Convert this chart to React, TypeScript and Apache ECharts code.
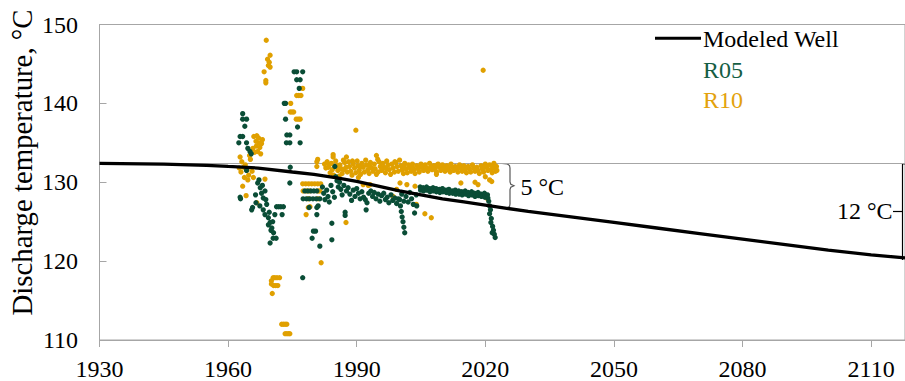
import React, { useEffect, useRef } from "react";
import * as echarts from "echarts";

// ---------- data ----------
const xTicks = [1930, 1960, 1990, 2020, 2050, 2080, 2110];
const yTicks = [110, 120, 130, 140, 150];

const modelYears = [1930, 1945, 1955, 1960, 1967, 1975, 1980, 1985, 1990, 1995, 2000, 2005, 2010, 2015, 2020, 2025, 2030, 2040, 2050, 2060, 2070, 2080, 2090, 2100, 2110, 2117.9];
const modelTemps = [132.4, 132.3, 132.15, 132.0, 131.8, 131.3, 131.0, 130.6, 130.1, 129.5, 128.9, 128.4, 127.9, 127.5, 127.1, 126.7, 126.3, 125.6, 124.9, 124.2, 123.5, 122.8, 122.1, 121.4, 120.8, 120.4];

const initialTemp = 132.4;

// R10 measurements [year, temperature]
const r10Early: number[][] = [
  [1962.8, 133.2], [1963.2, 132.6], [1963.6, 131.9], [1963.0, 131.3], [1964.0, 132.2], [1964.4, 131.6],
  [1964.8, 130.9], [1965.2, 132.9], [1965.6, 131.4], [1963.8, 130.6], [1964.6, 130.3], [1965.9, 130.6],
  [1962.6, 131.8], [1965.0, 133.4], [1963.4, 129.5], [1964.2, 128.3], [1966.7, 127.4], [1968.6, 130.4],
  [1966.0, 135.8], [1966.7, 135.9], [1967.1, 135.6], [1966.5, 135.2], [1967.3, 135.0], [1966.6, 134.6],
  [1967.4, 134.4], [1966.9, 133.9], [1967.6, 133.6], [1966.2, 133.8], [1965.8, 134.3], [1967.8, 134.9],
  [1968.0, 135.4], [1968.9, 148.0], [1969.8, 146.1], [1969.2, 145.6], [1969.6, 145.2], [1969.4, 144.8],
  [1969.8, 144.6], [1968.4, 144.0], [1968.8, 142.9], [1968.8, 142.6],
  [1970.5, 117.9], [1970.9, 117.9], [1971.4, 117.9], [1972.0, 117.9], [1970.1, 117.5], [1970.1, 117.1],
  [1970.6, 116.9], [1971.1, 116.9], [1971.6, 116.9], [1970.3, 115.9],
  [1972.5, 112.0], [1972.9, 112.0], [1973.3, 112.0], [1973.7, 112.0], [1973.3, 110.8], [1973.7, 110.8],
  [1974.1, 110.8], [1974.4, 110.8], [1972.3, 109.8],
  [1974.6, 140.0], [1974.5, 138.9], [1974.9, 138.9], [1975.3, 138.9], [1975.9, 138.0], [1976.4, 138.0],
  [1976.8, 138.0], [1976.0, 141.0], [1976.5, 141.0], [1977.0, 141.0], [1977.4, 141.9],
];
const r10Seventies: number[][] = [
  [1977.4, 129.8], [1978.1, 129.8], [1978.8, 129.8], [1979.5, 129.8], [1980.2, 129.8], [1980.9, 129.8],
  [1981.6, 129.8], [1977.5, 128.9], [1978.3, 128.9], [1979.0, 128.9], [1981.0, 128.9], [1981.4, 128.9],
  [1978.7, 127.9], [1981.0, 127.9], [1978.7, 126.8], [1979.1, 126.9], [1978.2, 125.9], [1981.7, 119.8],
  [1980.7, 132.0], [1980.9, 132.9], [1980.7, 132.6],
];
const r10Outliers: number[][] = [
  [1987.5, 124.9], [1989.8, 136.6], [2019.5, 144.2], [1984.5, 133.5], [1984.5, 133.2], [1987.6, 133.2],
  [1994.6, 133.4], [1991.5, 129.7], [1992.7, 129.6], [1993.1, 129.7], [1998.5, 128.2], [1999.3, 129.1],
  [2000.1, 129.9], [2001.7, 129.7], [2003.6, 129.5], [2003.9, 127.2], [2005.9, 126.0], [2007.4, 125.5],
  [2008.6, 131.0], [2014.3, 129.9], [2017.6, 130.0], [2018.3, 129.7], [2020.0, 130.7], [2021.0, 130.3],
  [2020.5, 127.9], [2021.5, 130.1], [1990.4, 130.6],
];
const r10Band: number[][] = [
  [1982.5, 132.3], [1982.8, 131.8], [1983.1, 132.6], [1983.4, 131.9], [1983.8, 131.2],
  [1984.1, 132.4], [1984.3, 131.6], [1984.6, 130.9], [1984.9, 132.0],
  [1985.1, 132.7], [1985.4, 132.1], [1985.6, 131.5], [1985.9, 130.8],
  [1986.1, 132.2], [1986.4, 131.7], [1986.6, 131.1], [1986.9, 132.8],
  [1987.2, 132.5], [1987.5, 131.9], [1987.8, 131.3],
  [1988.1, 132.6], [1988.3, 132.0], [1988.6, 131.4], [1988.9, 130.9],
  [1989.2, 132.3], [1989.5, 131.8], [1989.8, 131.2],
  [1990.1, 132.7], [1990.3, 132.1], [1990.6, 131.5], [1990.9, 131.0],
  [1991.2, 132.4], [1991.5, 131.9], [1991.8, 131.3],
  [1992.1, 132.8], [1992.3, 132.2], [1992.6, 131.6], [1992.9, 131.1],
  [1993.2, 132.5], [1993.5, 131.8], [1993.8, 131.4],
  [1994.1, 132.3], [1994.3, 131.7], [1994.6, 131.0], [1994.9, 132.9],
  [1995.2, 132.6], [1995.5, 132.0], [1995.8, 131.5],
  [1996.1, 132.4], [1996.4, 131.9], [1996.7, 131.2],
  [1997.0, 132.7], [1997.3, 132.2], [1997.6, 131.6], [1997.9, 131.0],
  [1998.2, 132.3], [1998.5, 131.8], [1998.8, 131.3],
  [1999.1, 132.5], [1999.4, 132.0], [1999.7, 131.4],
  [2000.0, 132.8], [2000.3, 132.1], [2000.6, 131.6], [2000.9, 131.1],
  [2001.2, 132.4], [2001.5, 131.7], [2001.8, 131.2],
  [2002.1, 132.2], [2002.4, 131.8], [2002.7, 131.4],
  [2003.0, 132.3], [2003.3, 131.6], [2003.6, 131.1],
  [2004.0, 132.1], [2004.3, 131.7], [2004.6, 131.3],
  [2005.0, 132.3], [2005.3, 131.9], [2005.6, 131.5],
  [2006.0, 132.2], [2006.3, 131.8], [2006.6, 131.4],
  [2007.0, 132.4], [2007.3, 132.0], [2007.6, 131.6],
  [2008.0, 132.1], [2008.3, 131.7], [2008.6, 131.3],
  [2009.0, 132.3], [2009.3, 131.9], [2009.6, 131.5],
  [2010.0, 132.2], [2010.3, 131.8], [2010.6, 131.4],
  [2011.0, 132.1], [2011.4, 131.6],
  [2012.0, 132.3], [2012.3, 131.9], [2012.6, 131.5],
  [2013.0, 132.0], [2013.3, 131.7], [2013.6, 131.3],
  [2014.0, 132.2], [2014.3, 131.8], [2014.6, 131.4],
  [2015.0, 132.1], [2015.3, 131.6], [2015.6, 131.2],
  [2016.0, 132.0], [2016.3, 131.7], [2016.6, 131.3],
  [2017.0, 132.2], [2017.3, 131.8], [2017.6, 131.4],
  [2018.0, 131.9], [2018.3, 131.5], [2018.6, 131.1],
  [2019.0, 132.1], [2019.3, 131.7], [2019.6, 131.3],
  [2020.0, 132.3], [2020.3, 131.9], [2020.6, 131.5],
  [2021.0, 132.2], [2021.3, 131.6], [2021.6, 131.2],
  [2022.0, 132.4], [2022.2, 131.8], [2022.4, 131.4], [2022.6, 132.0], [2022.7, 131.5],
  [1983.6, 132.2], [1985.8, 131.9], [1987.0, 131.6], [1989.0, 132.7], [1991.0, 132.0], [1993.0, 132.1],
  [1995.0, 131.3], [1996.9, 131.7], [1998.9, 132.6], [2001.0, 132.0], [2003.0, 131.9], [2004.8, 131.9],
  [2006.8, 131.7], [2008.8, 132.2], [2011.2, 131.9], [2011.8, 131.3], [2013.8, 131.9], [2015.8, 131.9],
  [2017.8, 131.7], [2019.8, 131.9], [2021.8, 131.9],
];

// R05 measurements [year, temperature]
const r05Early: number[][] = [
  [1962.5, 135.0], [1962.8, 135.8], [1963.4, 138.7], [1963.4, 138.0], [1964.3, 138.0], [1963.9, 137.1],
  [1963.4, 135.8], [1964.3, 135.0], [1964.6, 134.3], [1965.1, 133.9], [1965.4, 133.6], [1964.3, 131.5],
  [1962.9, 127.9], [1962.8, 128.1],
  [1966.9, 129.9], [1967.5, 129.3], [1967.8, 128.6], [1968.6, 128.9], [1968.2, 128.0], [1968.8, 127.8],
  [1966.5, 127.4], [1965.7, 126.8], [1967.4, 127.0], [1968.2, 126.5], [1968.6, 125.9], [1969.4, 125.5],
  [1969.8, 124.9], [1970.2, 124.2], [1969.4, 124.6], [1970.0, 123.9], [1970.6, 123.6], [1970.5, 122.9],
  [1971.2, 122.9], [1969.8, 122.3], [1967.2, 130.3], [1968.0, 129.6], [1966.4, 128.4], [1965.5, 126.5],
  [1969.0, 127.2], [1969.6, 126.2], [1970.4, 125.0],
  [1971.3, 126.9], [1971.8, 126.9], [1972.3, 126.9], [1972.9, 126.9], [1972.6, 125.9], [1970.9, 125.9],
];
const r05Seventies: number[][] = [
  [1975.4, 144.0], [1976.0, 144.0], [1977.4, 144.0], [1976.0, 143.0], [1976.8, 143.0], [1976.6, 141.9],
  [1973.4, 140.0], [1973.1, 140.0], [1973.4, 138.0], [1976.2, 137.0], [1973.7, 136.0], [1974.4, 136.0],
  [1973.6, 135.0], [1974.4, 135.0], [1976.8, 135.0], [1974.5, 131.9], [1974.4, 129.9],
  [1977.4, 117.9], [1977.9, 128.9], [1978.6, 128.9], [1979.3, 128.9], [1980.0, 128.9], [1980.7, 128.9],
  [1977.5, 127.9], [1978.3, 127.9], [1979.0, 127.9], [1979.8, 127.9], [1980.6, 127.9], [1981.4, 127.9],
  [1978.9, 126.8], [1980.7, 126.8], [1981.0, 127.0], [1980.7, 125.9], [1980.4, 123.8], [1979.6, 122.9],
  [1979.9, 123.8], [1981.4, 121.9],
];
const r05Band: number[][] = [
  [1982.0, 129.4], [1982.3, 128.6], [1982.6, 127.8], [1983.0, 129.0], [1983.3, 128.2], [1983.6, 127.5],
  [1984.2, 124.8], [1984.2, 122.7], [1984.0, 129.6], [1984.4, 128.8], [1984.8, 128.1], [1984.9, 132.0],
  [1985.1, 130.7], [1985.4, 130.2], [1985.7, 129.4], [1986.0, 130.0], [1986.3, 129.1], [1986.6, 128.4],
  [1987.0, 129.6], [1987.3, 126.2], [1987.3, 125.8], [1987.6, 128.9], [1988.0, 129.3], [1988.4, 128.5],
  [1988.8, 127.7], [1989.2, 129.0], [1989.6, 128.2], [1990.0, 129.2], [1990.4, 128.6], [1990.8, 127.9],
  [1991.2, 128.8], [1991.6, 128.1], [1992.0, 127.8], [1992.2, 126.5], [1992.4, 127.4], [1992.8, 128.6],
  [1993.3, 128.9], [1993.7, 128.2], [1994.1, 128.7], [1994.5, 127.9], [1995.0, 128.5], [1995.4, 127.6],
  [1995.8, 128.3], [1996.3, 128.6], [1996.7, 127.8], [1997.1, 128.1], [1997.5, 127.4], [1998.0, 128.4],
  [1998.4, 127.7], [1998.9, 128.0], [1999.3, 127.3], [1999.7, 127.9], [2000.0, 127.8], [2000.2, 127.0],
  [2000.4, 126.3], [2000.6, 125.6], [2000.8, 125.0], [2001.0, 124.3], [2001.2, 123.6], [2000.5, 128.5],
  [2001.0, 127.6], [2001.5, 128.2], [2002.0, 127.5], [2002.4, 128.7], [2002.8, 127.9], [2003.2, 127.2],
  [2003.5, 126.1], [2003.9, 128.4], [2004.0, 127.0],
  [2004.8, 129.4], [2004.9, 129.0], [2005.5, 129.3], [2005.6, 128.9], [2006.3, 129.4], [2006.4, 129.0],
  [2007.0, 129.2], [2007.1, 128.8], [2007.8, 129.3], [2007.9, 128.9], [2008.5, 129.2], [2008.6, 128.8],
  [2009.3, 129.1], [2009.4, 128.7], [2010.0, 129.2], [2010.1, 128.8], [2010.8, 129.0], [2010.9, 128.7],
  [2011.5, 129.1], [2011.6, 128.6], [2012.3, 128.9], [2012.4, 128.6], [2013.0, 129.0], [2013.1, 128.5],
  [2013.8, 128.9], [2013.9, 128.5], [2014.5, 128.8], [2014.6, 128.4], [2015.3, 128.9], [2015.4, 128.5],
  [2016.0, 128.7], [2016.1, 128.3], [2016.8, 128.8], [2016.9, 128.4], [2017.5, 128.6], [2017.6, 128.2],
  [2018.3, 128.7], [2018.4, 128.3], [2019.0, 128.5], [2019.1, 128.2], [2019.8, 128.6], [2019.9, 128.1],
  [2020.5, 128.4], [2020.6, 128.0],
  [2020.8, 127.6], [2021.0, 127.0], [2021.2, 126.5], [2021.0, 126.0], [2021.4, 125.4], [2021.3, 124.9],
  [2021.7, 124.4], [2021.9, 123.9], [2022.1, 123.4], [2022.3, 123.0], [2021.6, 123.6],
];

const GREEN = "#0a4d36";
const GOLD = "#e0a000";
const SERIF = "Liberation Serif";

export default function App() {
  const ref = useRef<HTMLDivElement>(null);

  useEffect(() => {
    if (!ref.current) return;
    const chart = echarts.init(ref.current, undefined, { renderer: "svg" });
    const r10 = [...r10Early, ...r10Seventies, ...r10Band, ...r10Outliers];
    const r05 = [...r05Early, ...r05Seventies, ...r05Band];
    const model = modelYears.map((y, i) => [y, modelTemps[i]]);

    const txt = (x: number, y: number, text: string, fill: string, align: string, size = 24, extra: any = {}) => ({
      type: "text",
      x,
      y,
      ...extra,
      style: { text, fontFamily: SERIF, fontSize: size, fill, align, verticalAlign: "middle" },
    });

    chart.setOption({
      animation: false,
      textStyle: { fontFamily: SERIF },
      grid: {
        left: 99.5,
        right: 0,
        top: 24.5,
        bottom: 38.5,
        show: true,
        borderColor: "#a6a6a6",
        borderWidth: 1,
      },
      xAxis: {
        type: "value",
        min: 1930,
        max: 2117.9,
        axisLine: { lineStyle: { color: "#a6a6a6", width: 1 } },
        axisTick: { show: true, inside: false, length: 7, customValues: xTicks, lineStyle: { color: "#a6a6a6" } },
        axisLabel: {
          customValues: xTicks,
          margin: 17,
          color: "#000",
          fontFamily: SERIF,
          fontSize: 24,
          formatter: (v: number) => String(v),
        },
        splitLine: { show: false },
      },
      yAxis: {
        type: "value",
        min: yTicks[0],
        max: yTicks[yTicks.length - 1],
        interval: 10,
        axisLine: { show: true, lineStyle: { color: "#a6a6a6", width: 1 } },
        axisTick: { show: true, inside: true, length: 7, lineStyle: { color: "#a6a6a6" } },
        axisLabel: { margin: 21.5, color: "#000", fontFamily: SERIF, fontSize: 24 },
        splitLine: { show: false },
      },
      series: [
        {
          name: "R10",
          type: "scatter",
          symbolSize: 5.3,
          itemStyle: { color: GOLD, opacity: 1 },
          data: r10,
          z: 2,
        },
        {
          name: "R05",
          type: "scatter",
          symbolSize: 5.3,
          itemStyle: { color: GREEN, opacity: 1 },
          data: r05,
          z: 3,
        },
        {
          name: "Modeled Well",
          type: "line",
          showSymbol: false,
          lineStyle: { color: "#000", width: 3.3 },
          data: model,
          z: 4,
          markLine: {
            silent: true,
            symbol: "none",
            label: { show: false },
            lineStyle: { color: "#a6a6a6", width: 1, type: "solid" },
            data: [{ yAxis: initialTemp }],
            z: 1,
          },
        },
      ],
      graphic: [
        txt(22, 162.5, "Discharge temperature, °C", "#000", "center", 28.8, { rotation: Math.PI / 2 }),
        // legend
        { type: "line", shape: { x1: 655, y1: 38.3, x2: 701, y2: 38.3 }, style: { stroke: "#000", lineWidth: 3 } },
        txt(703, 38.5, "Modeled Well", "#000", "left"),
        txt(703, 69.5, "R05", "#155e44", "left"),
        txt(703, 100, "R10", "#e3a20c", "left"),
        // 5 °C brace
        {
          type: "polyline",
          shape: {
            points: [
              [502, 163.5], [507, 163.8], [509.5, 165.5], [510, 168], [510, 182], [510.8, 184.3], [514, 185.8],
              [510.8, 187.3], [510, 189.5], [510, 204], [509.5, 206.5], [507, 208], [502, 208.3],
            ],
          },
          style: { stroke: "#595959", lineWidth: 1.2, fill: null },
        },
        txt(520.5, 186.5, "5 °C", "#000", "left"),
        // 12 °C bracket
        { type: "line", shape: { x1: 902.5, y1: 163.3, x2: 902.5, y2: 260 }, style: { stroke: "#000", lineWidth: 1.2 } },
        { type: "line", shape: { x1: 902.5, y1: 163.8, x2: 905, y2: 163.8 }, style: { stroke: "#000", lineWidth: 1.2 } },
        { type: "line", shape: { x1: 893, y1: 211.5, x2: 902.5, y2: 211.5 }, style: { stroke: "#000", lineWidth: 1.2 } },
        txt(892.5, 211, "12 °C", "#000", "right"),
      ],
    });

    return () => chart.dispose();
  }, []);

  return (
    <div
      ref={ref}
      style={{ position: "fixed", left: 0, top: 0, width: 905, height: 381, background: "#fff" }}
    />
  );
}
